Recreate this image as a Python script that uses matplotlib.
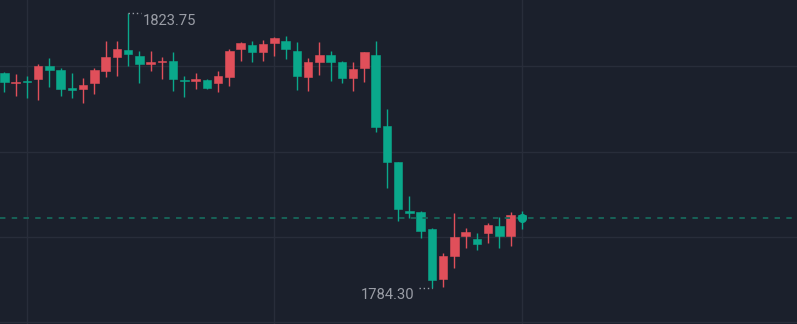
import matplotlib
matplotlib.use("Agg")
import matplotlib.pyplot as plt
import numpy as np

# OHLC (one candle per bar, oldest first)
opens = [1815.15, 1813.71, 1814.04, 1814.28, 1816.19, 1815.66, 1812.99, 1812.85, 1813.71, 1815.52,
         1817.53, 1818.49, 1817.63, 1816.44, 1816.72, 1816.91, 1814.23, 1814.08, 1814.23, 1813.71,
         1814.66, 1818.59, 1819.25, 1818.20, 1819.45, 1819.78, 1818.34, 1814.66, 1816.77, 1817.81,
         1816.77, 1814.47, 1815.86, 1817.81, 1807.59, 1802.38, 1795.39, 1795.25, 1792.88, 1785.59,
         1788.97, 1791.85, 1791.40, 1792.19, 1793.24, 1791.85, 1794.82]
highs = [1815.29, 1815.00, 1814.76, 1816.44, 1817.34, 1815.86, 1815.15, 1814.43, 1815.86, 1819.78,
         1819.78, 1823.75, 1818.34, 1818.34, 1817.44, 1818.16, 1814.76, 1815.15, 1814.30, 1815.48,
         1818.59, 1819.64, 1819.78, 1819.92, 1820.40, 1820.50, 1819.59, 1817.30, 1819.59, 1818.34,
         1816.91, 1816.77, 1818.16, 1819.78, 1809.98, 1802.38, 1797.54, 1795.39, 1792.91, 1789.32,
         1795.06, 1792.91, 1792.19, 1793.63, 1794.53, 1795.21, 1795.44]
lows = [1812.42, 1811.93, 1811.56, 1811.36, 1813.22, 1811.93, 1811.56, 1810.84, 1812.13, 1814.57,
        1814.80, 1816.19, 1813.71, 1815.52, 1814.28, 1812.65, 1811.79, 1812.85, 1812.90, 1812.46,
        1813.37, 1816.95, 1816.77, 1816.95, 1817.67, 1817.24, 1812.79, 1812.65, 1814.94, 1814.08,
        1813.71, 1812.65, 1813.90, 1806.68, 1798.65, 1794.00, 1794.34, 1791.48, 1784.30, 1784.49,
        1787.17, 1790.04, 1789.80, 1790.76, 1790.04, 1790.41, 1792.77]
closes = [1813.94, 1813.90, 1813.90, 1816.19, 1815.66, 1812.85, 1812.79, 1813.47, 1815.62, 1817.44,
          1818.67, 1817.87, 1816.44, 1816.77, 1816.91, 1814.28, 1814.08, 1814.28, 1812.99, 1814.71,
          1818.34, 1819.45, 1818.20, 1819.39, 1820.17, 1818.59, 1814.80, 1816.77, 1817.81, 1816.77,
          1814.47, 1815.81, 1818.16, 1807.44, 1802.42, 1795.64, 1795.06, 1792.57, 1785.54, 1788.97,
          1791.66, 1792.35, 1790.61, 1793.38, 1791.85, 1794.82, 1794.45]
grid_prices = [1816.19, 1803.92, 1791.66, 1779.47]
grid_bars = [2, 24, 46]

BG = '#1b202c'
GRID = '#282d3a'
UP = '#e04f5a'     # rising candles are red on this chart
DOWN = '#0aa88b'   # falling candles are green
TXT = '#9a9da6'

o = np.array(opens); h = np.array(highs); l = np.array(lows); c = np.array(closes)
x = np.arange(len(o))
cols = [UP if cc > oo else DOWN for oo, cc in zip(o, c)]

fig = plt.figure(figsize=(7.97, 3.24), dpi=100, facecolor=BG)
ax = fig.add_axes([0, 0, 1, 1], facecolor=BG)

px = 11.25  # pixels per bar
ax.set_xlim(-4.3 / px, (797 - 4.3) / px)
ax.set_ylim(1779.18, 1825.66)

ax.set_yticks(grid_prices)
ax.set_xticks(grid_bars)
ax.grid(True, color=GRID, lw=1.0)
ax.tick_params(length=0, labelleft=False, labelbottom=False)
for s in ax.spines.values():
    s.set_visible(False)

# candles
ax.vlines(x, l, h, colors=cols, lw=1.0, zorder=2)
bottoms = np.minimum(o, c)
heights = np.maximum(np.abs(c - o), 0.15)
ax.bar(x, heights, bottom=bottoms, width=0.76, color=cols, edgecolor=cols, lw=0.4, zorder=3)

# last price
ax.axhline(c[-1], color='#17675b', lw=1.3, ls=(0, (3, 3.5)), zorder=4)
ax.plot(x[-1], c[-1], 'o', color=DOWN, ms=5.5, zorder=5)

# high / low labels
ih = int(np.argmax(h)); il = int(np.argmin(l))
ax.plot([ih, ih + 12.5 / px], [h[ih], h[ih]], color=TXT, lw=1, ls=(0, (1, 2)), zorder=4)
ax.annotate('%.2f' % h[ih], xy=(ih, h[ih]), xytext=(15, -11.5), textcoords='offset pixels',
            ha='left', va='baseline', color=TXT, fontsize=10.6, family='Roboto')
ax.plot([il - 13 / px, il], [l[il], l[il]], color=TXT, lw=1, ls=(0, (1, 2)), zorder=4)
ax.annotate('%.2f' % l[il], xy=(il, l[il]), xytext=(-17, -11), textcoords='offset pixels',
            ha='right', va='baseline', color=TXT, fontsize=10.6, family='Roboto')

fig.savefig('out.png', dpi=100, facecolor=BG)
